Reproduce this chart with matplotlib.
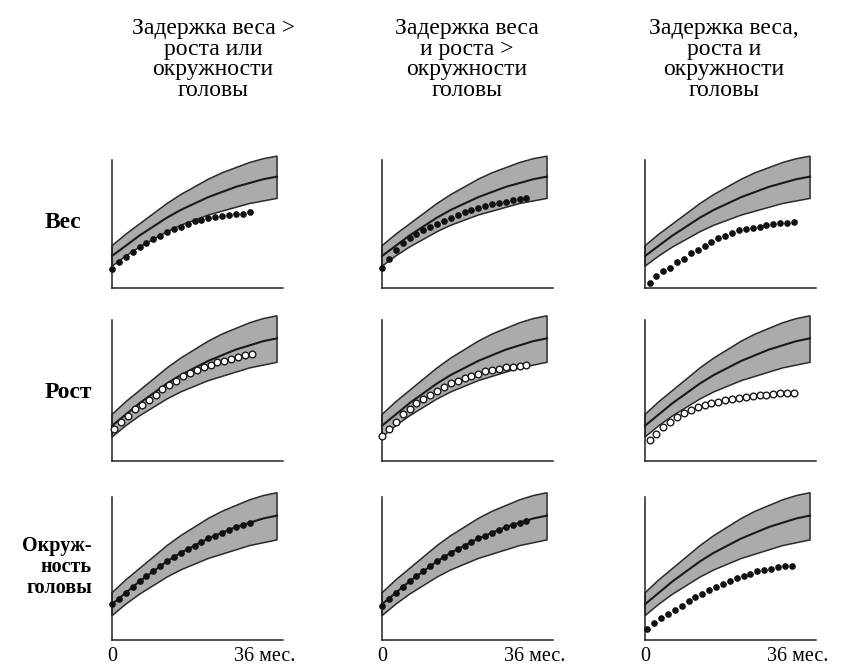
import matplotlib.pyplot as plt
import numpy as np

# Референсная полоса нормы (в % от высоты оси), месяцы 0..36 с шагом 3
band_months = [0, 3, 6, 9, 12, 15, 18, 21, 24, 27, 30, 33, 36]
band_upper = [33, 42, 50, 58, 66, 73, 79, 85, 90, 94, 98, 101, 103]
band_median = [25, 33, 41, 48, 55, 61, 66, 71, 75, 79, 82, 85, 87]
band_lower = [17, 25, 32, 38, 44, 49, 53, 57, 60, 63, 66, 68, 70]

col_titles = ['Задержка веса >\nроста или\nокружности\nголовы',
              'Задержка веса\nи роста >\nокружности\nголовы',
              'Задержка веса,\nроста и\nокружности\nголовы']
row_titles = ['Вес', 'Рост', 'Окруж-\nность\nголовы']

# Кривые ребёнка: (месяцы, значения) для каждой строки/столбца
ch_m_a = [0, 1.5, 3, 4.5, 6, 7.5, 9, 10.5, 12, 13.5, 15, 16.5, 18, 19.5,
          21, 22.5, 24, 25.5, 27, 28.5, 30]
ch_m_b = [0, 1.5, 3, 4.5, 6, 7.5, 9, 10.5, 12, 13.5, 15, 16.5, 18, 19.5,
          21, 22.5, 24, 25.5, 27, 28.5, 30, 31.5]
ch_m_c = [1, 2.5, 4, 5.5, 7, 8.5, 10, 11.5, 13, 14.5, 16, 17.5, 19, 20.5,
          22, 23.5, 25, 26.5, 28, 29.5, 31, 32.5]
ch_m_d = [0.5, 2, 3.5, 5, 6.5, 8, 9.5, 11, 12.5, 14, 15.5, 17, 18.5, 20,
          21.5, 23, 24.5, 26, 27.5, 29, 30.5]
ch_m_e = [0.5, 2, 3.5, 5, 6.5, 8, 9.5, 11, 12.5, 14, 15.5, 17, 18.5, 20,
          21.5, 23, 24.5, 26, 27.5, 29, 30.5, 32]

weight_1 = [15, 20, 24, 28, 32, 35, 38, 41, 44, 46, 48, 50, 52, 53,
            54.5, 55.5, 56, 57, 57.5, 58, 59]
weight_2 = [16, 23, 30, 35, 39, 42, 45, 48, 50, 52.5, 55, 57, 59, 61,
            62.5, 64, 65.5, 66.5, 67.5, 68.5, 69.5, 70]
weight_3 = [4, 9, 13, 16, 20, 23, 27, 30, 33, 36, 39, 41, 43, 45,
            46, 47, 48, 49, 50, 50.5, 51, 51.5]

height_1 = [23, 28, 32, 37, 40, 43, 47, 51, 54, 57, 60, 62.5, 64.5, 66.5,
            68, 70, 71, 72.5, 74, 75, 76]
height_2 = [18, 23, 28, 33, 37, 41, 44, 47, 50, 52.5, 55, 57, 59, 60.5,
            62, 63.5, 64.5, 65.5, 66.5, 67, 67.5, 68]
height_3 = [15, 19, 24, 28, 31, 34, 36, 38, 39.5, 41, 42, 43, 44, 45,
            45.5, 46, 46.5, 47, 47.5, 48, 48, 48]

head_1 = [25, 29, 33, 37, 41, 44.5, 48, 51.5, 55, 58, 61, 63.5, 66, 68.5,
          71, 73, 75, 77, 79, 80.5, 82]
head_2 = [24, 28.5, 33, 37, 41, 44.5, 48, 51.5, 55, 58, 61, 63.5, 66, 68.5,
          71, 73, 75, 77, 79, 80.5, 82, 83.5]
head_3 = [8, 12, 15.5, 18, 21, 24, 27, 30, 32.5, 35, 37, 39.5, 41.5, 43.5,
          45, 46.5, 48, 49, 50, 51, 51.5, 52]

child = [
    [(ch_m_a, weight_1), (ch_m_b, weight_2), (ch_m_c, weight_3)],
    [(ch_m_d, height_1), (ch_m_b, height_2), (ch_m_c, height_3)],
    [(ch_m_a, head_1), (ch_m_b, head_2), (ch_m_e, head_3)],
]

W, H = 844, 669
col_left = [112, 382, 645]
col_w = 171
row_base = [288, 461, 640]
row_top = [160, 320, 497]

serif = ['Liberation Serif', 'DejaVu Serif']

fig = plt.figure(figsize=(W / 100, H / 100), dpi=100)
fig.patch.set_facecolor('white')

for r in range(3):
    for c in range(3):
        hgt = row_base[r] - row_top[r]
        ax = fig.add_axes([col_left[c] / W, 1 - row_base[r] / H, col_w / W, hgt / H])
        ax.set_xlim(0, 37.3)
        ax.set_ylim(0, 100)
        for s in ['top', 'right']:
            ax.spines[s].set_visible(False)
        for s in ['left', 'bottom']:
            ax.spines[s].set_color('#222222')
            ax.spines[s].set_linewidth(1.1)
        ax.set_xticks([])
        ax.set_yticks([])

        # полоса нормы
        poly_x = band_months + band_months[::-1]
        poly_y = band_upper + band_lower[::-1]
        ax.fill(poly_x, poly_y, facecolor='#ababab', edgecolor='#2a2a2a',
                linewidth=1.1, clip_on=False, zorder=1)
        ax.plot(band_months, band_median, color='#1a1a1a', lw=1.5,
                clip_on=False, zorder=2)

        mx, my = child[r][c]
        if r == 1:
            ax.plot(mx, my, 'o', ms=4.8, mfc='white', mec='#1a1a1a', mew=1.0,
                    ls='none', clip_on=False, zorder=3)
        else:
            ax.plot(mx, my, 'o', ms=3.8, color='#111111', ls='none',
                    clip_on=False, zorder=3)

        if r == 2:
            ax.text(0, -0.115, '0', transform=ax.get_xaxis_transform(),
                    ha='center', va='center', fontsize=14.5, family=serif)
            ax.text(1.075, -0.115, '36 мес.', transform=ax.transAxes,
                    ha='right', va='center', fontsize=14.5, family=serif)

# заголовки столбцов
for c, x in enumerate([213, 467, 724]):
    fig.text(x / W, 1 - 18 / H, col_titles[c], ha='center', va='top',
             fontsize=17, family=serif, linespacing=0.98)

# подписи строк
fig.text(63 / W, 1 - 222 / H, row_titles[0], ha='center', va='center',
         fontsize=17, family=serif, fontweight='bold')
fig.text(68 / W, 1 - 393 / H, row_titles[1], ha='center', va='center',
         fontsize=17, family=serif, fontweight='bold')
fig.text(92 / W, 1 - 567 / H, row_titles[2], ha='right', va='center',
         fontsize=14.5, family=serif, fontweight='bold', multialignment='right',
         linespacing=1.05)

fig.savefig('out.png', dpi=100, facecolor='white')
